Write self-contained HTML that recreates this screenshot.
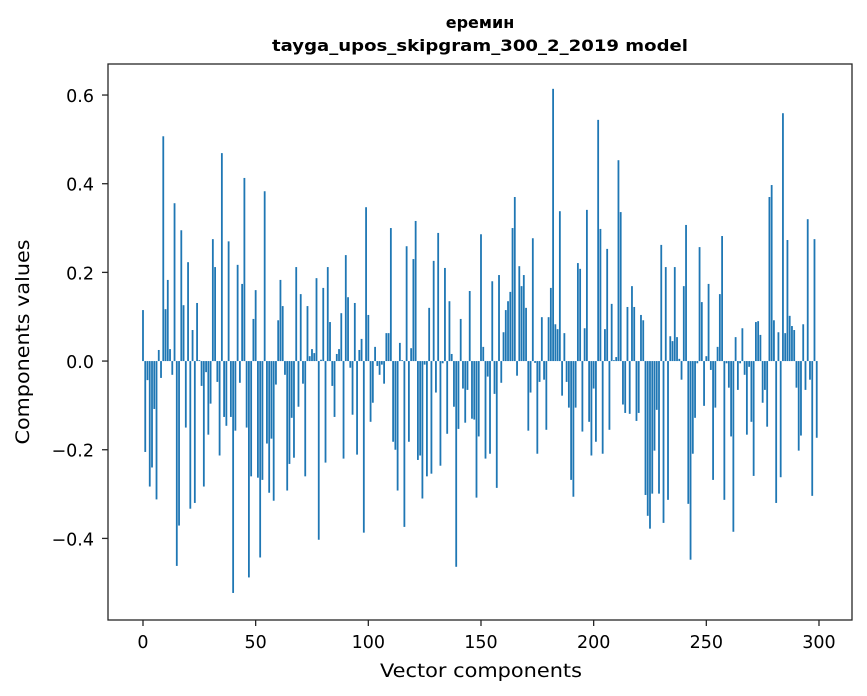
<!DOCTYPE html>
<html><head><meta charset="utf-8"><style>
body{margin:0;background:#fff;}
svg{display:block;font-family:"DejaVu Sans","Liberation Sans",sans-serif;}
</style></head><body>
<svg id="chart" width="867" height="696">
<text x="480" y="28" text-anchor="middle" font-size="16" font-weight="bold">еремин</text>
<text x="480" y="51" text-anchor="middle" font-size="16" font-weight="bold" textLength="416" lengthAdjust="spacingAndGlyphs">tayga_upos_skipgram_300_2_2019 model</text>
<g id="bars"></g>
<g id="axes"></g>
<text x="481" y="677" text-anchor="middle" font-size="19" textLength="202" lengthAdjust="spacingAndGlyphs">Vector components</text>
<text transform="translate(29,342) rotate(-90)" text-anchor="middle" font-size="19" textLength="205" lengthAdjust="spacingAndGlyphs">Components values</text>
</svg>
<script>
const values = [0.115,-0.205,-0.043,-0.283,-0.24,-0.108,-0.312,0.025,-0.038,0.507,
0.117,0.183,0.027,-0.031,0.356,-0.462,-0.371,0.295,0.126,-0.15,
0.223,-0.333,0.07,-0.32,0.131,0.002,-0.056,-0.283,-0.025,-0.166,
-0.096,0.275,0.212,-0.047,-0.213,0.469,-0.126,-0.146,0.27,-0.126,
-0.523,-0.157,0.217,-0.049,0.174,0.413,-0.15,-0.488,-0.26,0.095,
0.16,-0.263,-0.443,-0.268,0.383,-0.186,-0.297,-0.175,-0.315,-0.053,
0.092,0.183,0.124,-0.031,-0.292,-0.232,-0.128,-0.218,0.212,-0.103,
0.151,-0.051,-0.26,0.124,0.011,0.027,0.018,0.187,-0.403,0.003,
0.165,-0.229,0.212,0.088,-0.056,-0.126,0.016,0.027,0.108,-0.22,
0.239,0.144,-0.015,-0.121,0.131,-0.211,0.025,0.05,-0.387,0.347,
0.104,-0.137,-0.094,0.032,-0.011,-0.031,-0.008,-0.051,0.063,0.063,
0.3,-0.182,-0.2,-0.292,0.041,0.002,-0.374,0.259,-0.182,0.029,
0.23,0.316,-0.223,-0.213,-0.31,-0.008,-0.26,0.12,-0.254,0.226,
-0.071,0.289,-0.236,-0.005,0.21,-0.164,0.135,0.016,-0.103,-0.464,
-0.153,0.095,-0.062,-0.139,-0.065,0.158,-0.13,-0.132,-0.308,-0.17,
0.286,0.032,-0.22,-0.035,-0.209,0.18,-0.074,-0.286,0.194,-0.049,
0.065,0.115,0.135,0.156,0.3,0.37,-0.033,0.214,0.169,0.194,
0.12,-0.157,-0.071,0.277,-0.004,-0.209,-0.047,0.099,-0.042,-0.155,
0.099,0.165,0.614,0.083,0.072,0.338,-0.078,0.063,-0.047,-0.105,
-0.268,-0.306,-0.105,0.221,0.208,-0.159,0.074,0.341,-0.137,-0.213,
-0.062,-0.182,0.544,0.298,-0.209,0.072,0.253,-0.155,0.129,0.002,
0.009,0.453,0.336,-0.098,-0.117,0.122,-0.119,0.169,0.122,-0.135,
-0.117,0.104,0.092,-0.302,-0.349,-0.378,-0.299,-0.202,-0.11,-0.299,
0.262,-0.365,0.212,-0.313,0.056,0.045,0.212,0.054,0.005,-0.042,
0.169,0.307,-0.322,-0.448,-0.209,-0.128,-0.005,0.257,0.133,-0.101,
0.011,0.174,-0.02,-0.268,-0.105,0.032,0.151,0.282,-0.313,-0.005,
-0.06,-0.17,-0.385,0.054,-0.065,-0.005,0.074,-0.031,-0.166,-0.013,
-0.137,-0.259,0.088,0.09,0.059,-0.094,-0.065,-0.148,0.37,0.397,
0.092,-0.32,0.065,-0.262,0.559,0.063,0.273,0.102,0.079,0.07,
-0.06,-0.202,-0.168,0.083,-0.065,0.32,-0.042,-0.304,0.275,-0.173];
const xTicks = [0,50,100,150,200,250,300];
const yTicks = [-0.4,-0.2,0.0,0.2,0.4,0.6];
const yTickLabels = ["\u22120.4","\u22120.2","0.0","0.2","0.4","0.6"];

const L=108,R=852,T=64,B=620;
const xMin=-15.53,xMax=314.65,yMin=-0.584,yMax=0.670;
const sx=v=>L+(v-xMin)/(xMax-xMin)*(R-L);
const sy=v=>T+(yMax-v)/(yMax-yMin)*(B-T);
const NS="http://www.w3.org/2000/svg";
const bars=document.getElementById('bars');
values.forEach((v,i)=>{
  const r=document.createElementNS(NS,'rect');
  const x0=sx(i-0.4),x1=sx(i+0.4);
  const y0=sy(Math.max(v,0)),y1=sy(Math.min(v,0));
  r.setAttribute('x',x0);r.setAttribute('width',x1-x0);
  r.setAttribute('y',y0);r.setAttribute('height',Math.max(y1-y0,0.01));
  r.setAttribute('fill','#1f77b4');
  
  
  bars.appendChild(r);
});
const ax=document.getElementById('axes');
const frame=document.createElementNS(NS,'rect');
frame.setAttribute('x',L);frame.setAttribute('y',T);
frame.setAttribute('width',R-L);frame.setAttribute('height',B-T);
frame.setAttribute('fill','none');frame.setAttribute('stroke','#262626');frame.setAttribute('stroke-width','1.3');


ax.appendChild(frame);
xTicks.forEach(t=>{
  const x=sx(t);
  const l=document.createElementNS(NS,'line');
  l.setAttribute('x1',x);l.setAttribute('x2',x);l.setAttribute('y1',B);l.setAttribute('y2',B+6);
  l.setAttribute('stroke','#262626');l.setAttribute('stroke-width','1.3');
  
  
  ax.appendChild(l);
  const tx=document.createElementNS(NS,'text');
  tx.setAttribute('x',x);tx.setAttribute('y',B+28);tx.setAttribute('text-anchor','middle');tx.setAttribute('font-size','17.5');
  tx.textContent=t;
  
  
  ax.appendChild(tx);
});
yTicks.forEach((t,k)=>{
  const y=sy(t);
  const l=document.createElementNS(NS,'line');
  l.setAttribute('x1',L-6);l.setAttribute('x2',L);l.setAttribute('y1',y);l.setAttribute('y2',y);
  l.setAttribute('stroke','#262626');l.setAttribute('stroke-width','1.3');
  
  
  ax.appendChild(l);
  const tx=document.createElementNS(NS,'text');
  tx.setAttribute('x',L-14);tx.setAttribute('y',y+7);tx.setAttribute('text-anchor','end');tx.setAttribute('font-size','17.5');
  tx.textContent=yTickLabels[k];
  
  
  ax.appendChild(tx);
});
</script>
</body></html>
